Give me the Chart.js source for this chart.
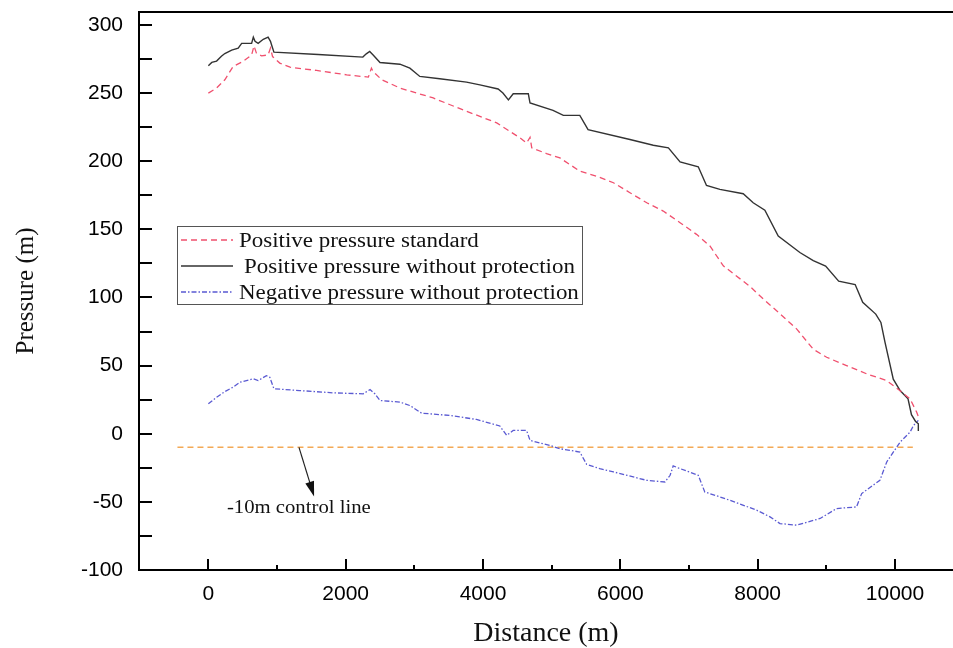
<!DOCTYPE html>
<html lang="en">
<head>
    <meta charset="UTF-8">
    <title>Pressure along the pipeline</title>
    <script src="https://cdn.jsdelivr.net/npm/chart.js"></script>
    <style>
        body { margin: 0; background: #fff; }
    </style>
</head>
<body>
    <canvas id="pressureChart" width="953" height="648"></canvas>

    <script>
        // Distance ticks and pressure ticks
        const xTicks = [0, 2000, 4000, 6000, 8000, 10000];
        const yTicks = [-100, -50, 0, 50, 100, 150, 200, 250, 300];

        // Positive pressure standard (red dashed)
        const stdX = [0, 120, 240, 360, 505, 630, 665, 700, 775, 870, 905, 935, 1040, 1190, 1575, 2015, 2330, 2375, 2400, 2525,
            2790, 3275, 3760, 3955, 4200, 4540, 4635, 4685, 4710, 4925, 5120, 5410, 5655, 5900, 6140, 6385, 6625, 6870, 7110,
            7305, 7500, 7890, 8080, 8325, 8570, 8810, 9005, 9295, 9590, 9880, 10075, 10220, 10315, 10345];
        const stdY = [250, 253.7, 259.8, 269.5, 273.2, 278, 284.6, 279.3, 277.3, 278, 283, 276.8, 272, 269, 266.6, 263.4, 261.7, 268.3, 265.8, 259.8,
            253.7, 246.4, 236.6, 232.9, 228.1, 217.1, 213.4, 217.5, 209.8, 205.6, 202.4, 192.7, 189, 184.2, 176.9, 169.5, 163.4, 154.9, 146.3,
            137.8, 123.2, 108, 99, 88, 76.8, 62, 56.1, 50, 43.9, 39, 31.5, 25.6, 15.9, 12];

        // Positive pressure without protection (black solid)
        const posX = [0, 50, 120, 190, 240, 340, 435, 485, 630, 655, 680, 725, 800, 870, 905, 920, 955, 1600, 2250, 2300,
            2350, 2400, 2500, 2790, 2935, 3080, 3370, 3760, 3955, 4220, 4290, 4370, 4440, 4660, 4685, 5020, 5170, 5410, 5530,
            6140, 6480, 6700, 6870, 7135, 7255, 7450, 7790, 7935, 8105, 8300, 8615, 8810, 8990, 9180, 9420, 9530, 9720, 9795,
            9855, 9975, 10075, 10190, 10240, 10300, 10340, 10340];
        const posY = [270, 272.5, 273.5, 277, 279, 281.5, 283, 286.5, 286.5, 291, 288, 286.5, 289.5, 291, 288, 285.5, 280, 278.3, 276.4, 278.8,
            280.5, 278, 272.4, 271.2, 268.3, 262.2, 260.5, 258, 256, 253, 250, 245, 249.5, 249.5, 242.7, 237.3, 233.6, 233.6, 223.2,
            215.9, 211.7, 209.8, 199.5, 195.9, 182.2, 179.3, 176.1, 169.5, 164.1, 145, 133, 127, 123, 112, 109.5, 96.4, 87.8, 81.7,
            67.1, 40, 31.7, 25.6, 14, 9, 7.3, 2];

        // Negative pressure without protection (blue dash-dot)
        const negX = [0, 120, 240, 360, 460, 655, 725, 845, 895, 955, 1330, 1820, 2255, 2355, 2425, 2500, 2790, 2935, 3105, 3520,
            3905, 4245, 4345, 4440, 4635, 4685, 4975, 5120, 5410, 5510, 5700, 5900, 6385, 6650, 6725, 6770, 6870, 7135, 7230,
            7595, 7985, 8180, 8325, 8570, 8910, 9150, 9440, 9515, 9780, 9880, 10075, 10220, 10270, 10340];
        const negY = [22, 26.8, 30.9, 34.2, 37.8, 40.3, 39, 42.6, 41.4, 33, 31.7, 30, 29.3, 32.4, 29.3, 24.4, 23.2, 20.7, 15.1, 13.4,
            10.5, 5.7, -1.2, 2.4, 2.4, -4.9, -8.6, -11, -13.4, -22.5, -25.6, -28, -34.2, -35.4, -30.5, -23.6, -25.6, -30.5, -42.7,
            -48.8, -56.1, -61, -65.9, -67.1, -62.2, -54.9, -53.7, -43.9, -34.2, -20.7, -6.1, 1.2, 6.1, 9.8];

        // -10 m control line
        const ctrlX = [-450, 10260];
        const ctrlY = [-10, -10];

        const toPoints = (xs, ys) => xs.map((x, i) => ({ x: x, y: ys[i] }));

        // draws text squeezed the same way as the original figure
        function stretchedText(ctx, text, x, y, font, sx) {
            ctx.save();
            ctx.translate(x, y);
            ctx.scale(sx, 1);
            ctx.font = font;
            ctx.fillText(text, 0, 0);
            ctx.restore();
        }

        // inward tick marks and the top frame line
        const frameTicks = {
            id: 'frameTicks',
            afterDraw(chart) {
                const { ctx, chartArea: a, scales: { x, y } } = chart;
                ctx.save();
                ctx.strokeStyle = '#000';
                ctx.lineWidth = 2;
                ctx.beginPath();
                ctx.moveTo(a.left - 1, a.top);
                ctx.lineTo(a.right, a.top);
                for (let i = 0; i < xTicks.length; i++) {
                    const px = Math.round(x.getPixelForValue(xTicks[i]));
                    ctx.moveTo(px, a.bottom);
                    ctx.lineTo(px, a.bottom - 11);
                    if (i < xTicks.length - 1) {
                        const mx = Math.round(x.getPixelForValue((xTicks[i] + xTicks[i + 1]) / 2));
                        ctx.moveTo(mx, a.bottom);
                        ctx.lineTo(mx, a.bottom - 5);
                    }
                }
                for (let i = 0; i < yTicks.length; i++) {
                    const py = Math.round(y.getPixelForValue(yTicks[i]));
                    ctx.moveTo(a.left, py);
                    ctx.lineTo(a.left + 13, py);
                    if (i < yTicks.length - 1) {
                        const my = Math.round(y.getPixelForValue((yTicks[i] + yTicks[i + 1]) / 2));
                        ctx.moveTo(a.left, my);
                        ctx.lineTo(a.left + 13, my);
                    }
                }
                ctx.stroke();
                ctx.restore();
            }
        };

        // boxed legend inside the plot plus the control line note
        const notes = {
            id: 'notes',
            afterDatasetsDraw(chart) {
                const { ctx, scales: { x, y } } = chart;
                const sets = chart.data.datasets;
                ctx.save();

                ctx.strokeStyle = '#555';
                ctx.lineWidth = 1;
                ctx.strokeRect(177.5, 226.5, 405, 78);
                ctx.fillStyle = '#111';
                ctx.textBaseline = 'alphabetic';
                const labelX = [239, 244, 239];
                for (let i = 0; i < 3; i++) {
                    const ly = 240 + i * 26;
                    ctx.save();
                    ctx.strokeStyle = sets[i].borderColor;
                    ctx.lineWidth = sets[i].borderWidth;
                    ctx.setLineDash(sets[i].borderDash || []);
                    ctx.beginPath();
                    ctx.moveTo(181, ly);
                    ctx.lineTo(233, ly);
                    ctx.stroke();
                    ctx.restore();
                    stretchedText(ctx, sets[i].label, labelX[i], ly + 7, '20.5px "Liberation Serif"', 1.12);
                }

                // arrow from the control line to its label
                const x0 = x.getPixelForValue(1320), y0 = y.getPixelForValue(-10);
                const x1 = x.getPixelForValue(1540), y1 = y.getPixelForValue(-46);
                const ang = Math.atan2(y1 - y0, x1 - x0);
                ctx.strokeStyle = '#222';
                ctx.fillStyle = '#111';
                ctx.lineWidth = 1.2;
                ctx.beginPath();
                ctx.moveTo(x0, y0);
                ctx.lineTo(x1 - 10 * Math.cos(ang), y1 - 10 * Math.sin(ang));
                ctx.stroke();
                ctx.beginPath();
                ctx.moveTo(x1, y1);
                ctx.lineTo(x1 - 15 * Math.cos(ang) + 4.5 * Math.sin(ang), y1 - 15 * Math.sin(ang) - 4.5 * Math.cos(ang));
                ctx.lineTo(x1 - 15 * Math.cos(ang) - 4.5 * Math.sin(ang), y1 - 15 * Math.sin(ang) + 4.5 * Math.cos(ang));
                ctx.closePath();
                ctx.fill();

                stretchedText(ctx, '-10m control line', x.getPixelForValue(270), y.getPixelForValue(-58.5),
                    '18.5px "Liberation Serif"', 1.12);
                ctx.restore();
            }
        };

        const ctx = document.getElementById('pressureChart').getContext('2d');
        const chart = new Chart(ctx, {
            type: 'line',
            data: {
                datasets: [{
                    label: 'Positive pressure standard',
                    data: toPoints(stdX, stdY),
                    borderColor: '#f0506e',
                    borderWidth: 1.3,
                    borderDash: [6, 4]
                }, {
                    label: 'Positive pressure without protection',
                    data: toPoints(posX, posY),
                    borderColor: '#333333',
                    borderWidth: 1.4
                }, {
                    label: 'Negative pressure without protection',
                    data: toPoints(negX, negY),
                    borderColor: '#5a5ad2',
                    borderWidth: 1.3,
                    borderDash: [5, 2, 1.5, 2]
                }, {
                    label: '-10m control line',
                    data: toPoints(ctrlX, ctrlY),
                    borderColor: '#f4a955',
                    borderWidth: 1.5,
                    borderDash: [6, 4]
                }]
            },
            options: {
                responsive: false,
                devicePixelRatio: 1,
                animation: false,
                elements: { point: { radius: 0 }, line: { tension: 0 } },
                layout: { padding: { top: 12, right: 0, bottom: 0, left: 0 } },
                plugins: {
                    legend: { display: false },
                    tooltip: { enabled: false }
                },
                scales: {
                    x: {
                        type: 'linear',
                        min: -1010,
                        max: 10845,
                        afterBuildTicks: s => { s.ticks = xTicks.map(v => ({ value: v })); },
                        afterFit: s => { s.height = 78; s.paddingLeft = 0; s.paddingRight = 0; },
                        grid: { display: false, drawTicks: false },
                        border: { display: true, color: '#000', width: 2 },
                        ticks: {
                            color: '#000',
                            padding: 12,
                            maxRotation: 0,
                            autoSkip: false,
                            callback: v => String(v),
                            font: { family: '"Liberation Sans", Arial', size: 21 }
                        },
                        title: {
                            display: true,
                            text: 'Distance (m)',
                            color: '#111',
                            padding: 0,
                            font: { family: '"Liberation Serif", "Times New Roman"', size: 28, lineHeight: 1 }
                        }
                    },
                    y: {
                        min: -100,
                        max: 309.5,
                        afterBuildTicks: s => { s.ticks = yTicks.map(v => ({ value: v })); },
                        afterFit: s => { s.width = 139; s.paddingTop = 0; s.paddingBottom = 0; },
                        grid: { display: false, drawTicks: false },
                        border: { display: true, color: '#000', width: 2 },
                        ticks: {
                            color: '#000',
                            padding: 16,
                            callback: v => String(v),
                            font: { family: '"Liberation Sans", Arial', size: 21 }
                        },
                        title: {
                            display: true,
                            text: 'Pressure (m)',
                            color: '#111',
                            padding: { top: 14, bottom: 0 },
                            font: { family: '"Liberation Serif", "Times New Roman"', size: 25, lineHeight: 1 }
                        }
                    }
                }
            },
            plugins: [frameTicks, notes]
        });
    </script>
</body>
</html>
